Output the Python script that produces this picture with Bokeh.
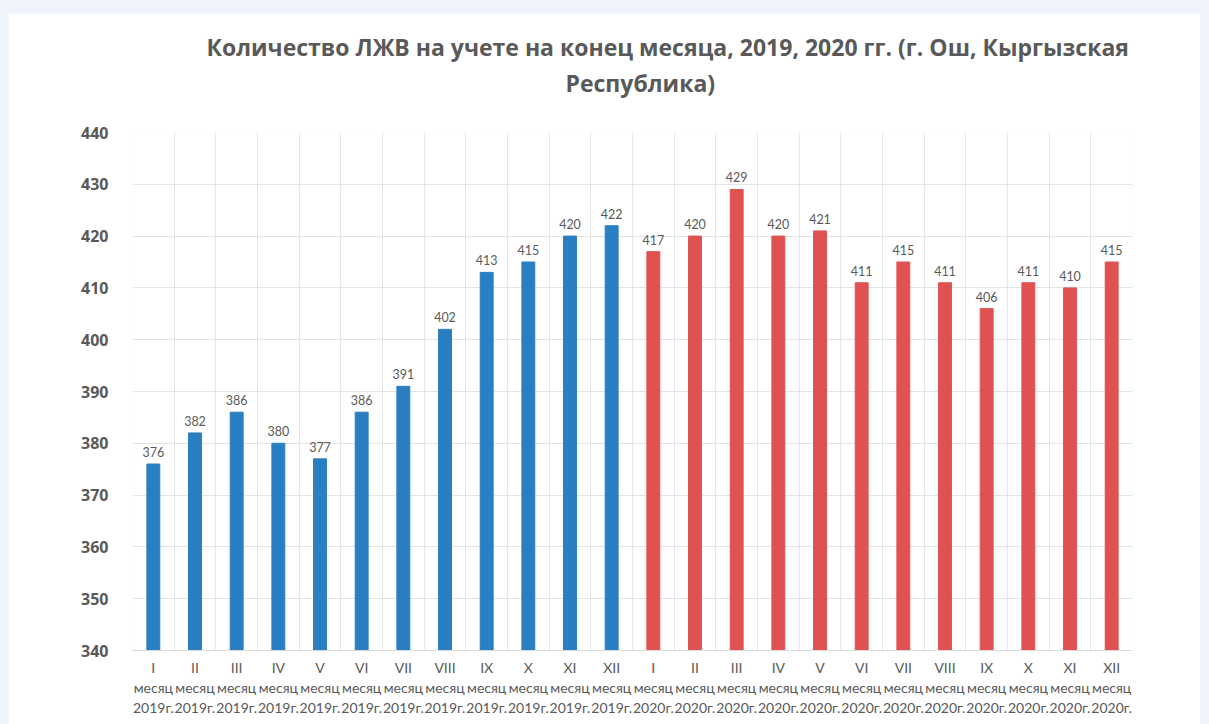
from bokeh.plotting import figure
from bokeh.models import ColumnDataSource, Range1d, FixedTicker, Title
from bokeh.layouts import column
from bokeh.embed import file_html
from bokeh.resources import INLINE
from bokeh.core.properties import value

months = ["I", "II", "III", "IV", "V", "VI", "VII", "VIII", "IX", "X", "XI", "XII"]
years = ["2019", "2020"]
values_2019 = [376, 382, 386, 380, 377, 386, 391, 402, 413, 415, 420, 422]
values_2020 = [417, 420, 429, 420, 421, 411, 415, 411, 406, 411, 410, 415]
y_ticks = [340, 350, 360, 370, 380, 390, 400, 410, 420, 430, 440]
title_line1 = "Количество  ЛЖВ на учете на конец месяца,  2019, 2020 гг. (г. Ош, Кыргызская"
title_line2 = "Республика)"

BLUE = "#2a7fc2"
RED = "#e05252"
GREY = "#595959"

labels = []
vals = []
colors = []
for yr, series, col in ((years[0], values_2019, BLUE), (years[1], values_2020, RED)):
    for m, v in zip(months, series):
        labels.append(f"{m}\nмесяц\n{yr}г.")
        vals.append(v)
        colors.append(col)
xs = [i + 0.5 for i in range(len(vals))]
src = ColumnDataSource(dict(x=xs, top=vals, color=colors, txt=[str(v) for v in vals]))

p = figure(width=1192, height=711, output_backend="svg", toolbar_location=None,
           x_range=Range1d(0, len(vals)), y_range=Range1d(340, 440),
           min_border_left=124, min_border_right=68, min_border_top=119, min_border_bottom=74)
p.margin = (13, 9, 0, 8)
p.background_fill_color = "white"
p.border_fill_color = "white"
p.outline_line_color = None

p.vbar(x="x", top="top", bottom=340, width=0.31, color="color", source=src)
p.text(x="x", y="top", text="txt", source=src, text_align="center", text_baseline="bottom",
       y_offset=-7, text_font=value("Lato"), text_font_size="12.5px", text_color=GREY)

# axes
p.xaxis.ticker = FixedTicker(ticks=xs)
p.xaxis.major_label_overrides = {x: l for x, l in zip(xs, labels)}
p.xaxis.major_label_text_font = "Lato"
p.xaxis.major_label_text_font_size = "14px"
p.xaxis.major_label_text_color = GREY
p.xaxis.major_label_standoff = 2
p.xaxis.major_tick_line_color = None
p.xaxis.minor_tick_line_color = None
p.xaxis.axis_line_color = "#d9d9d9"
p.xaxis.axis_line_width = 1

p.yaxis.ticker = FixedTicker(ticks=y_ticks)
p.yaxis.major_label_text_font = "Open Sans"
p.yaxis.major_label_text_font_style = "bold"
p.yaxis.major_label_text_font_size = "16px"
p.yaxis.major_label_text_color = GREY
p.yaxis.major_label_standoff = 18
p.yaxis.major_tick_line_color = None
p.yaxis.minor_tick_line_color = None
p.yaxis.axis_line_color = None

p.xgrid.ticker = FixedTicker(ticks=list(range(len(vals) + 1)))
p.xgrid.grid_line_color = "#e8e8e8"
p.ygrid.grid_line_color = "#e3e3e3"

title_style = dict(text_font="Open Sans", text_font_style="bold", text_font_size="23px",
                   text_color=GREY)
spacer = Title(text=" ", standoff=0, **title_style)
t2 = Title(text=title_line2, align="left", offset=433, standoff=0, **title_style)
t1 = Title(text=title_line1, align="left", offset=74, standoff=4, **title_style)
p.add_layout(spacer, "above")
p.add_layout(t2, "above")
p.add_layout(t1, "above")

layout = column(p, width=1209, height=724, styles={"background-color": "#eff4fc"})

open("out.html", "w").write(file_html(layout, INLINE))
